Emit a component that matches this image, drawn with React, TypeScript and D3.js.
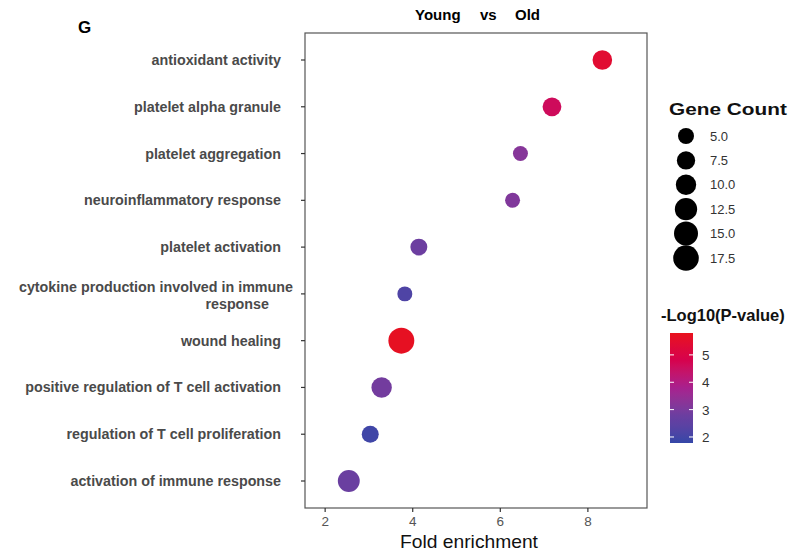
import * as d3 from "d3";
import { useEffect, useRef } from "react";

// GO terms, top to bottom
const terms = [
  "antioxidant activity",
  "platelet alpha granule",
  "platelet aggregation",
  "neuroinflammatory response",
  "platelet activation",
  "cytokine production involved in immune\nresponse",
  "wound healing",
  "positive regulation of T cell activation",
  "regulation of T cell proliferation",
  "activation of immune response",
];
const foldEnrichment = [8.33, 7.18, 6.46, 6.28, 4.14, 3.82, 3.74, 3.29, 3.03, 2.54];
const geneCount = [9, 8, 4, 4, 6, 4, 18, 10, 6, 12];
const negLogP = [5.4, 4.6, 3.2, 3.1, 2.8, 2.2, 5.7, 2.9, 1.95, 2.75];

const xTicks = [2, 4, 6, 8];
const sizeBreaks = [5.0, 7.5, 10.0, 12.5, 15.0, 17.5];
const colorTicks = [2, 3, 4, 5];
const colorStops = [1.78, 2.8, 3.8, 4.8, 5.8];
const colorRange = ["#3447a8", "#6c3ea0", "#a8208e", "#d6024e", "#e8121c"];

const App = () => {
  const ref = useRef<SVGSVGElement>(null);

  useEffect(() => {
    const svg = d3.select(ref.current);
    svg.selectAll("*").remove();

    const font = "'Liberation Sans', Arial, sans-serif";
    const left = 305, right = 647, top = 33, bottom = 508;

    const x = d3.scaleLinear().domain([1.54, 9.35]).range([left, right]);
    const y = d3.scalePoint().domain(terms).range([60, 481]);
    // area grows linearly with count, like ggplot's scale_size
    const area = d3.scaleLinear().domain([0, 17.5]).range([24, 164]);
    const r = (v: number) => Math.sqrt(area(v));
    const color = d3
      .scaleLinear<string>()
      .domain(colorStops)
      .range(colorRange)
      .interpolate(d3.interpolateLab)
      .clamp(true);

    // text with a horizontal stretch, the source picture is a bit wide in places
    const label = (px: number, py: number, s: string, size: number, sx = 1) =>
      svg.append("text")
        .attr("transform", `translate(${px},${py}) scale(${sx},1)`)
        .attr("font-family", font).attr("font-size", size)
        .text(s);

    // titles
    label(78, 33, "G", 17).attr("font-weight", "bold");
    label(415, 20, "Young", 15).attr("font-weight", "bold");
    label(480, 20, "vs", 15).attr("font-weight", "bold");
    label(515, 20, "Old", 15).attr("font-weight", "bold");

    // panel
    svg.append("rect").attr("x", left).attr("y", top)
      .attr("width", right - left).attr("height", bottom - top)
      .attr("fill", "white").attr("stroke", "#555").attr("stroke-width", 1.2);

    // y axis ticks + labels
    const yg = svg.append("g");
    terms.forEach((t) => {
      const yy = y(t)!;
      yg.append("line").attr("x1", left - 4).attr("x2", left).attr("y1", yy).attr("y2", yy)
        .attr("stroke", "#333").attr("stroke-width", 1.2);
      const lines = t.split("\n");
      const txt = yg.append("text")
        .attr("text-anchor", "end")
        .attr("font-family", font).attr("font-weight", "bold").attr("font-size", 14.3)
        .attr("fill", "#4a4a4a");
      if (lines.length === 1) {
        txt.attr("x", 281).attr("y", yy + 5).text(t);
      } else {
        txt.append("tspan").attr("x", 293).attr("y", yy - 2).text(lines[0]);
        txt.append("tspan").attr("x", 269).attr("y", yy + 15).text(lines[1]);
      }
    });

    // x axis ticks + labels
    xTicks.forEach((v) => {
      svg.append("line").attr("x1", x(v)).attr("x2", x(v)).attr("y1", bottom).attr("y2", bottom + 4)
        .attr("stroke", "#333").attr("stroke-width", 1.2);
      svg.append("text").attr("x", x(v)).attr("y", 526).attr("text-anchor", "middle")
        .attr("font-family", font).attr("font-size", 13.5).attr("fill", "#555").text(v);
    });
    label(469, 548, "Fold enrichment", 17.5, 1.1)
      .attr("text-anchor", "middle").attr("fill", "#111");

    // points
    svg.append("g").selectAll("circle")
      .data(terms)
      .join("circle")
      .attr("cx", (_, i) => x(foldEnrichment[i]))
      .attr("cy", (d) => y(d)!)
      .attr("r", (_, i) => r(geneCount[i]))
      .attr("fill", (_, i) => color(negLogP[i]));

    // size legend
    label(669, 115, "Gene Count", 16, 1.3).attr("font-weight", "bold").attr("fill", "#111");
    const sy = d3.scaleLinear().domain([5, 17.5]).range([136, 258]);
    sizeBreaks.forEach((b) => {
      svg.append("circle").attr("cx", 686).attr("cy", sy(b)).attr("r", r(b)).attr("fill", "#000");
      svg.append("text").attr("x", 710).attr("y", sy(b) + 4.5).text(b.toFixed(1))
        .attr("font-family", font).attr("font-size", 13).attr("fill", "#333");
    });

    // colour legend
    label(661, 321, "-Log10(P-value)", 16.5).attr("font-weight", "bold").attr("fill", "#111");
    const cy = d3.scaleLinear().domain([1.78, 5.8]).range([443, 333]);
    const grad = svg.append("defs").append("linearGradient").attr("id", "cbar")
      .attr("x1", 0).attr("x2", 0).attr("y1", 1).attr("y2", 0);
    d3.range(0, 1.0001, 0.05).forEach((f) => {
      grad.append("stop").attr("offset", f)
        .attr("stop-color", color(1.78 + f * (5.8 - 1.78)));
    });
    svg.append("rect").attr("x", 670).attr("y", 333).attr("width", 23).attr("height", 110)
      .attr("fill", "url(#cbar)");
    colorTicks.forEach((v) => {
      [[670, 674], [689, 693]].forEach(([a, b]) => {
        svg.append("line").attr("x1", a).attr("x2", b).attr("y1", cy(v)).attr("y2", cy(v))
          .attr("stroke", "white").attr("stroke-width", 1);
      });
      svg.append("text").attr("x", 702).attr("y", cy(v) + 5).text(v)
        .attr("font-family", font).attr("font-size", 13.5).attr("fill", "#333");
    });
  }, []);

  return (
    <svg
      ref={ref}
      width={798}
      height={553}
      style={{ position: "absolute", left: 0, top: 0, background: "white" }}
    />
  );
};

export default App;
